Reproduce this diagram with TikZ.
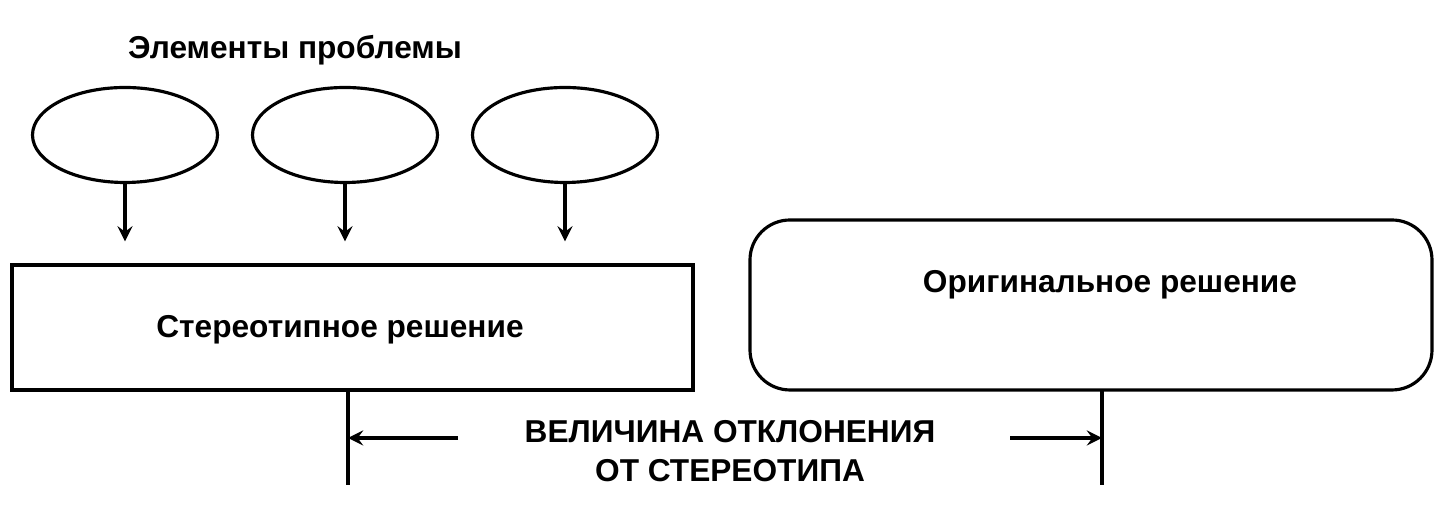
\documentclass[tikz,border=0pt]{standalone}
\usepackage{fontspec}
\setmainfont{Liberation Sans}
\usetikzlibrary{shapes.geometric,arrows,positioning}

\begin{document}
\begin{tikzpicture}[
    font=\fontsize{9}{11}\selectfont\bfseries,
    line width=0.9pt,
    elem/.style={ellipse, draw, minimum width=1.85cm, minimum height=0.95cm},
    solbox/.style={rectangle, draw, minimum width=6.81cm, minimum height=1.25cm},
    origbox/.style={rectangle, draw, rounded corners=0.4cm, minimum width=6.82cm, minimum height=1.7cm},
    arrow/.style={->,>=stealth, shorten >=0.22cm}
]
\useasboundingbox (0,0) rectangle (14.45,5.06);

% Elements of the problem
\node (title) at (2.95,4.56) {Элементы проблемы};
\node[elem] (e1) at (1.25,3.71) {};
\node[elem] (e2) at (3.45,3.71) {};
\node[elem] (e3) at (5.65,3.71) {};

% Solutions
\node[solbox] (stereo) at (3.525,1.785) {};
\node at (3.4,1.76) {Стереотипное решение};
\node[origbox] (orig) at (10.91,2.01) {};
\node at (11.1,2.21) {Оригинальное решение};

\foreach \e in {e1,e2,e3}
    \draw[arrow] (\e.south) -- (\e.south |- stereo.north);

% Deviation measure
\coordinate (ls) at (3.48,1.16);
\coordinate (lb) at (3.48,0.21);
\coordinate (rs) at (11.02,1.16);
\coordinate (rb) at (11.02,0.21);
\draw (ls) -- (lb);
\draw (rs) -- (rb);
\node[align=center] (dev) at (7.3,0.55) {ВЕЛИЧИНА ОТКЛОНЕНИЯ\\ОТ СТЕРЕОТИПА};
\coordinate (la) at (4.58,0.68);
\coordinate (ra) at (10.1,0.68);
\draw[->,>=stealth] (la) -- (la -| ls);
\draw[->,>=stealth] (ra) -- (ra -| rs);

\end{tikzpicture}
\end{document}
